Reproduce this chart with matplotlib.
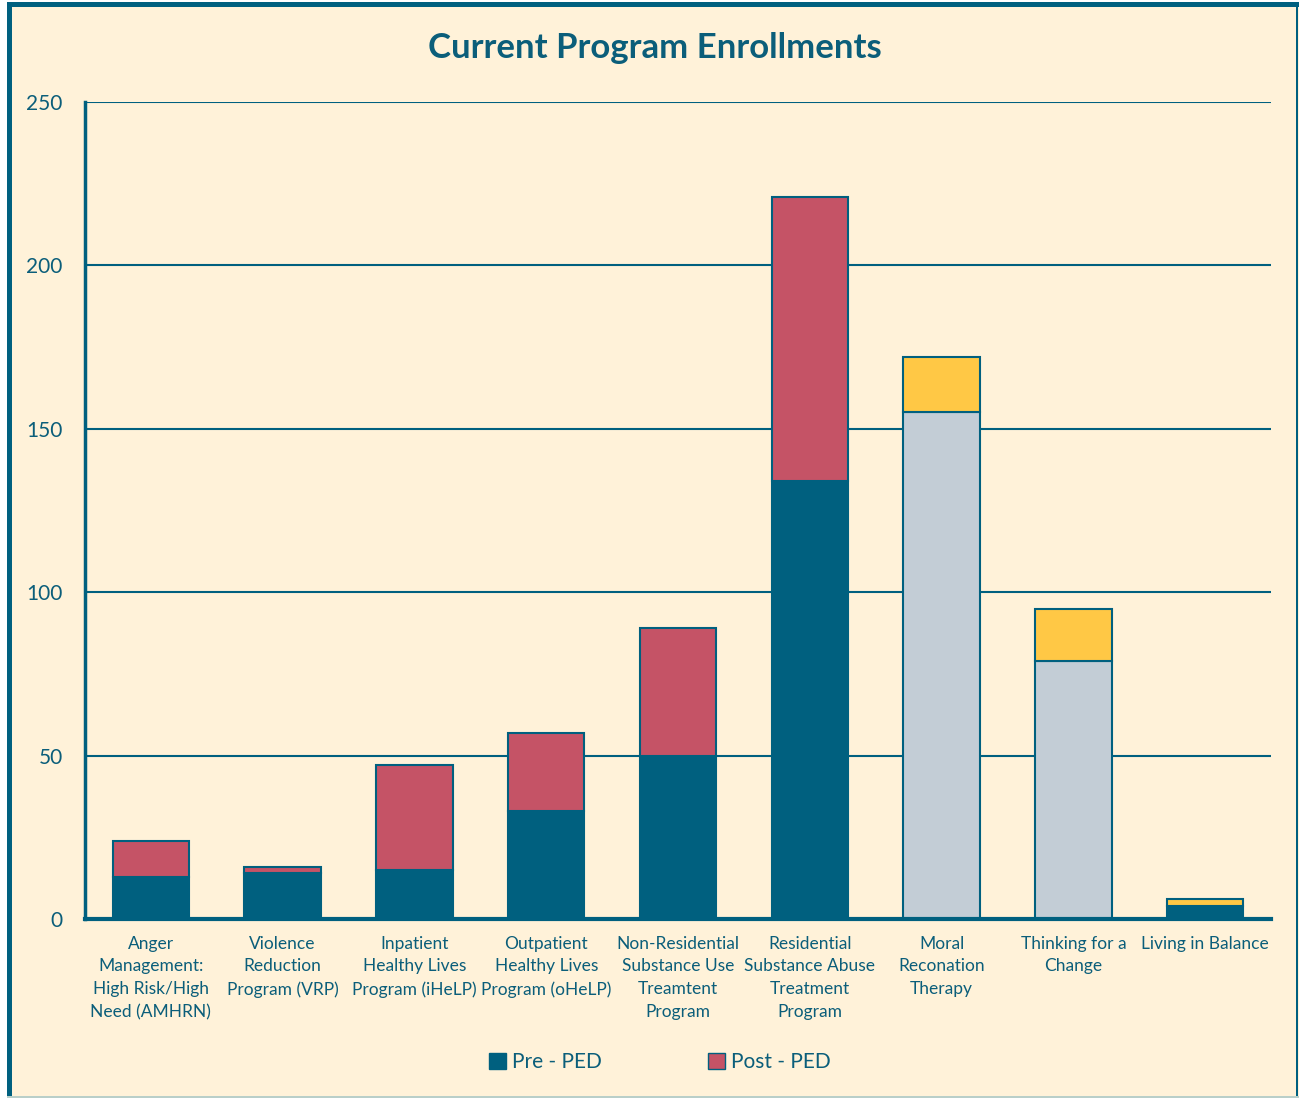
import matplotlib
matplotlib.use("Agg")
import matplotlib.pyplot as plt
from matplotlib.patches import Rectangle, Patch
import numpy as np

categories = [
    "Anger\nManagement:\nHigh Risk/High\nNeed (AMHRN)",
    "Violence\nReduction\nProgram (VRP)",
    "Inpatient\nHealthy Lives\nProgram (iHeLP)",
    "Outpatient\nHealthy Lives\nProgram (oHeLP)",
    "Non-Residential\nSubstance Use\nTreamtent\nProgram",
    "Residential\nSubstance Abuse\nTreatment\nProgram",
    "Moral\nReconation\nTherapy",
    "Thinking for a\nChange",
    "Living in Balance",
]
pre_ped = [13, 14, 15, 33, 50, 134, 155, 79, 4]
post_ped = [11, 2, 32, 24, 39, 87, 17, 16, 2]
yticks = [0, 50, 100, 150, 200, 250]

TEAL = "#00607F"
RED = "#C55366"
GRAY = "#C3CDD6"
YELLOW = "#FFC845"
BG = "#FFF2D9"
TXT = "#0B5E7A"

lower_colors = [TEAL, TEAL, TEAL, TEAL, TEAL, TEAL, GRAY, GRAY, TEAL]
upper_colors = [RED, RED, RED, RED, RED, RED, YELLOW, YELLOW, YELLOW]

plt.rcParams['font.family'] = ['Lato', 'DejaVu Sans']

W, H = 1299, 1099
fig = plt.figure(figsize=(W / 100, H / 100), dpi=100)
fig.patch.set_facecolor("white")

# frame
fig.add_artist(Rectangle((7 / W, 2 / H), (W - 7) / W, (H - 4) / H, transform=fig.transFigure,
                         facecolor=BG, edgecolor="none", zorder=-10))
fig.add_artist(Rectangle((7 / W, 2 / H), 5 / W, (H - 4) / H, transform=fig.transFigure,
                         facecolor=TEAL, edgecolor="none", zorder=-9))
fig.add_artist(Rectangle((7 / W, (H - 7) / H), (W - 7) / W, 5 / H, transform=fig.transFigure,
                         facecolor=TEAL, edgecolor="none", zorder=-9))
fig.add_artist(Rectangle(((W - 3) / W, 2 / H), 2 / W, (H - 4) / H, transform=fig.transFigure,
                         facecolor=TEAL, edgecolor="none", zorder=-9))
fig.add_artist(Rectangle((7 / W, 1 / H), (W - 7) / W, 2 / H, transform=fig.transFigure,
                         facecolor="#B9CFC9", edgecolor="none", zorder=-9))

ax = fig.add_axes([85 / W, 180 / H, (1271 - 85) / W, (919 - 102) / H])
ax.set_facecolor("none")

x = np.arange(len(categories))
w = 0.58
ax.bar(x, pre_ped, width=w, color=lower_colors, edgecolor=TEAL, linewidth=1.5, zorder=3)
ax.bar(x, post_ped, width=w, bottom=pre_ped, color=upper_colors, edgecolor=TEAL, linewidth=1.5, zorder=3)

ax.set_xlim(-0.5, len(categories) - 0.5)
ax.set_ylim(0, 250)
ax.set_yticks(yticks)
ax.set_yticklabels([str(v) for v in yticks], fontsize=15, color=TXT)
ax.tick_params(axis='y', length=0, pad=16)
ax.set_xticks(x)
ax.set_xticklabels(categories, fontsize=12.5, color=TXT, linespacing=1.52, va='top')
ax.tick_params(axis='x', length=0, pad=12)
ax.grid(axis='y', color=TEAL, linewidth=1.5, zorder=1)
for s in ["top", "right"]:
    ax.spines[s].set_visible(False)
ax.spines["left"].set_color(TEAL)
ax.spines["left"].set_linewidth(2.5)
ax.spines["bottom"].set_color(TEAL)
ax.spines["bottom"].set_linewidth(3)
ax.spines["bottom"].set_zorder(4)

fig.text(655 / W, (H - 48) / H, "Current Program Enrollments", ha="center", va="center",
         fontsize=25, fontweight="bold", color=TXT)

handles = [Patch(facecolor=TEAL, edgecolor=TEAL, label="Pre - PED"),
           Patch(facecolor=RED, edgecolor=TEAL, label="Post - PED")]
fig.legend(handles=handles, loc="center", bbox_to_anchor=(660 / W, (H - 1062) / H), ncol=2,
           frameon=False, fontsize=15, labelcolor=TXT, handlelength=0.8, handleheight=0.8,
           handletextpad=0.3, columnspacing=5.1)

fig.savefig("out.png", dpi=100, facecolor=fig.get_facecolor())
